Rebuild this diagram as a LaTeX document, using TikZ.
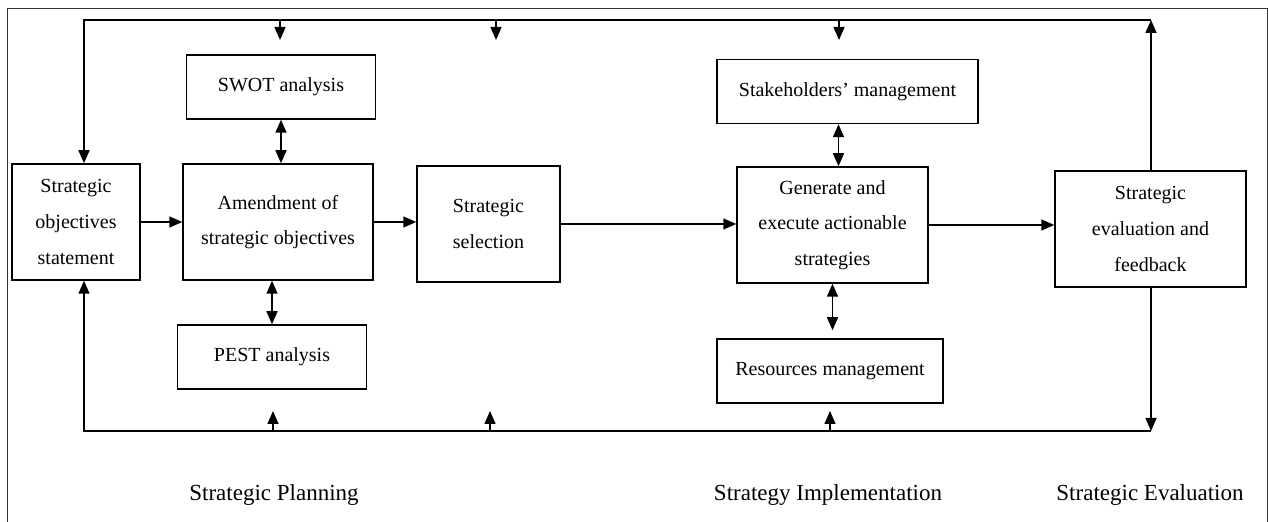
\documentclass[tikz,border=0pt]{standalone}
\usepackage{fontspec}
\setmainfont{Liberation Serif}
\usetikzlibrary{arrows.meta}

\begin{document}
\begin{tikzpicture}[x=0.5pt,y=-0.5pt,
  font=\fontsize{10}{17.8}\selectfont,
  box/.style={draw,line width=0.75pt,align=center,inner sep=2pt,minimum height=58pt},
  slim/.style={draw,line width=0.75pt,align=center,inner sep=2pt,minimum height=32pt},
  flow/.style={-{Triangle[length=6.5pt,width=5.5pt]},line width=0.75pt},
  both/.style={{Triangle[length=6.5pt,width=5.5pt]}-{Triangle[length=6.5pt,width=5.5pt]},line width=0.75pt},
  phase/.style={font=\fontsize{11.5}{14}\selectfont},
]
  \useasboundingbox (0,0) rectangle (1268,522);
  % page frame
  \draw[line width=0.5pt,black!80] (7,522) -- (7,9) -- (1267,9) -- (1267,522);

  \node[box,minimum width=64pt] (sos) at (76,222) {Strategic\\objectives\\statement};
  \node[box,minimum width=95pt] (amend) at (278,222) {Amendment of\\strategic objectives};
  \node[slim,minimum width=94.5pt] (swot) at (281,87) {SWOT analysis};
  \node[slim,minimum width=94.5pt] (pest) at (272,357) {PEST analysis};
  \node[box,minimum width=71.5pt] (select) at (488.5,224) {Strategic\\selection};
  \node[slim,minimum width=130.5pt] (stake) at (847.5,91.5) {Stakeholders' management};
  \node[box,minimum width=95.5pt] (gen) at (832.5,225) {Generate and\\execute actionable\\strategies};
  \node[slim,minimum width=113pt] (res) at (830,371) {Resources management};
  \node[box,minimum width=95.5pt] (eval) at (1150.5,229) {Strategic\\evaluation and\\feedback};

  \node[phase] (plan) at (274,495) {Strategic Planning};
  \node[phase] (impl) at (828,495) {Strategy Implementation};
  \node[phase] (evph) at (1150,495) {Strategic Evaluation};

  % loop corners and stubs
  \coordinate (tl) at (84,20);
  \coordinate (tr) at (1151,20);
  \coordinate (bl) at (84,431);
  \coordinate (br) at (1151,431);
  \coordinate (t1) at (280,40);
  \coordinate (t2) at (496,40);
  \coordinate (t3) at (839,40);
  \coordinate (b1) at (273,411);
  \coordinate (b2) at (490,411);
  \coordinate (b3) at (830,411);

  \draw[flow] (sos.east) -- (sos.east -| amend.west);
  \draw[flow] (amend.east) -- (amend.east -| select.west);
  \draw[flow] (select.east) -- (select.east -| gen.west);
  \draw[flow] (gen.east) -- (gen.east -| eval.west);

  \draw[both] (swot.south) -- (swot.south |- amend.north);
  \draw[both] (pest.north) -- (pest.north |- amend.south);
  \draw[both] ([xshift=3pt]gen.north) -- ([xshift=3pt]gen.north |- stake.south);
  \draw[both,shorten >=4pt] (gen.south) -- (gen.south |- res.north);

  \draw[flow] (tr |- eval.north) -- (tr);
  \draw[flow] (tr) -- (tl) -- (tl |- sos.north);
  \draw[flow] (br |- eval.south) -- (br);
  \draw[flow] (br) -- (bl) -- (bl |- sos.south);
  \foreach \c in {t1,t2,t3} \draw[flow] (\c |- tl) -- (\c);
  \foreach \c in {b1,b2,b3} \draw[flow] (\c |- bl) -- (\c);
\end{tikzpicture}
\end{document}
